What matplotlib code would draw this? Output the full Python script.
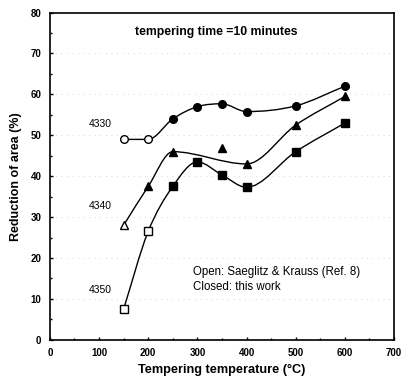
#!/usr/bin/env python3

import numpy as np
import matplotlib
matplotlib.use('Agg')
import matplotlib.pyplot as plt
from matplotlib.path import Path
from matplotlib.patches import PathPatch
from matplotlib.ticker import MultipleLocator

# define font
plt.rcParams['font.family'] = 'sans-serif'
plt.rcParams['font.sans-serif'] = ['Liberation Sans', 'DejaVu Sans']
plt.rc('axes', unicode_minus=False, linewidth=1.2)

# data
temp = [150, 200, 250, 300, 350, 400, 500, 600]
ra_4330 = [49.0, 49.0, 54.0, 57.0, 57.7, 55.8, 57.2, 62.0]
ra_4350 = [7.5, 26.5, 37.5, 43.5, 40.3, 37.3, 46.0, 53.0]
temp_4340 = [150, 200, 250, 400, 500, 600]
ra_4340 = [28.0, 37.5, 46.0, 43.0, 52.5, 59.5]
extra_4340 = (350, 47.0)

# open = Saeglitz & Krauss, closed = this work
n_open_4330 = 2
n_open_4340 = 1
n_open_4350 = 2


def smooth_path(x, y):
    # cubic hermite in x, flat at local extrema, written as beziers
    x = np.asarray(x, float)
    y = np.asarray(y, float)
    n = len(x)
    d = np.diff(y) / np.diff(x)
    m = np.zeros(n)
    m[0] = d[0]
    m[-1] = d[-1]
    for i in range(1, n - 1):
        if d[i - 1] * d[i] <= 0:
            m[i] = 0.0
        else:
            m[i] = (y[i + 1] - y[i - 1]) / (x[i + 1] - x[i - 1])
    verts = [(x[0], y[0])]
    codes = [Path.MOVETO]
    for i in range(n - 1):
        h = (x[i + 1] - x[i]) / 3.0
        verts += [(x[i] + h, y[i] + m[i] * h),
                  (x[i + 1] - h, y[i + 1] - m[i + 1] * h),
                  (x[i + 1], y[i + 1])]
        codes += [Path.CURVE4] * 3
    return Path(verts, codes)


fig = plt.figure(figsize=(4.05, 3.81), dpi=100)
ax = fig.add_axes([0.123, 0.108, 0.850, 0.859])

for x, y in [(temp, ra_4330), (temp_4340, ra_4340), (temp, ra_4350)]:
    ax.add_patch(PathPatch(smooth_path(x, y), facecolor='none',
                           edgecolor='black', lw=1.0, zorder=2))

ms = 5.5
# 4330 circles
ax.plot(temp[:n_open_4330], ra_4330[:n_open_4330], 'o', ms=ms, mfc='white', mec='black', mew=1.0, zorder=3)
ax.plot(temp[n_open_4330:], ra_4330[n_open_4330:], 'o', ms=ms, color='black', zorder=3)
# 4340 triangles
ax.plot(temp_4340[:n_open_4340], ra_4340[:n_open_4340], '^', ms=ms, mfc='white', mec='black', mew=1.0, zorder=3)
ax.plot(temp_4340[n_open_4340:], ra_4340[n_open_4340:], '^', ms=ms, color='black', zorder=3)
ax.plot([extra_4340[0]], [extra_4340[1]], '^', ms=ms, color='black', zorder=3)
# 4350 squares
ax.plot(temp[:n_open_4350], ra_4350[:n_open_4350], 's', ms=ms, mfc='white', mec='black', mew=1.0, zorder=3)
ax.plot(temp[n_open_4350:], ra_4350[n_open_4350:], 's', ms=ms, color='black', zorder=3)

ax.set_xlim(0, 700)
ax.set_ylim(0, 80)
ax.xaxis.set_major_locator(MultipleLocator(100))
ax.xaxis.set_minor_locator(MultipleLocator(50))
ax.yaxis.set_major_locator(MultipleLocator(10))
ax.yaxis.set_minor_locator(MultipleLocator(5))
ax.tick_params(which='both', direction='in', length=2, width=1.0, labelsize=7, pad=6)
ax.tick_params(which='minor', length=1.5)
for lab in ax.get_xticklabels() + ax.get_yticklabels():
    lab.set_fontweight('bold')

ax.grid(axis='y', which='major', linestyle=(0, (1, 7)), color='0.7', lw=0.5)
ax.set_axisbelow(True)

ax.text(102, 52, '4330', fontsize=7.5, ha='center')
ax.text(102, 32, '4340', fontsize=7.5, ha='center')
ax.text(102, 11.5, '4350', fontsize=7.5, ha='center')
ax.text(338, 75.2, 'tempering time =10 minutes', fontsize=8.8, fontweight='bold', ha='center', va='center')
ax.text(291, 16.6, 'Open: Saeglitz & Krauss (Ref. 8)', fontsize=8.3, va='center')
ax.text(291, 13.0, 'Closed: this work', fontsize=8.3, va='center')

ax.set_xlabel('Tempering temperature (\u00b0C)', fontsize=9.2, fontweight='bold', labelpad=4)
ax.set_ylabel('Reduction of area (%)', fontsize=9, fontweight='bold', labelpad=6)

fig.savefig('out.png', dpi=100)
